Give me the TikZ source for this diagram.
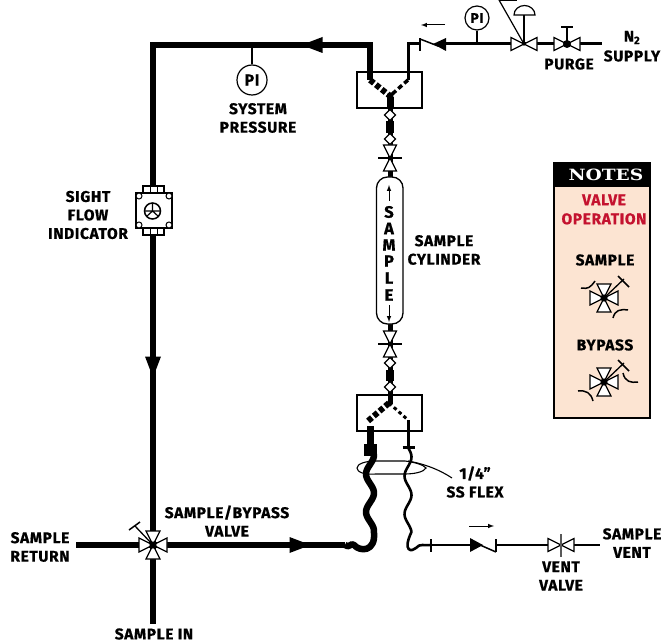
\documentclass[tikz,border=0pt]{standalone}
\usepackage{fontspec}
\setmainfont[FakeStretch=1.0,LetterSpace=4,BoldFeatures={FakeBold=0.7}]{Fira Sans}
\newfontfamily\notesfont[FakeStretch=1.2]{DejaVu Serif}
\usetikzlibrary{calc}
\definecolor{notepeach}{HTML}{FCE4D2}
\definecolor{notered}{HTML}{C4122F}
\tikzset{
  x=1pt,y=-1pt,
  lbl/.style={font=\fontsize{15.5}{18.5}\selectfont\bfseries,align=center,inner sep=0pt,text=black},
  rd/.style={font=\fontsize{15.5}{19}\selectfont\bfseries,align=center,inner sep=0pt,text=notered},
  thick line/.style={line width=6.5pt,line cap=butt,line join=miter},
  mid line/.style={line width=3pt,line cap=butt,line join=miter},
  thin line/.style={line width=1.3pt},
  tri/.style={fill=white,draw=black,line width=1.2pt,line join=miter},
  box/.style={draw=black,line width=1.2pt,fill=none},
  bowtie/.pic={
    \draw[tri] (-13,-6.5)--(-13,6.5)--(0,0)--cycle;
    \draw[tri] (13,-6.5)--(13,6.5)--(0,0)--cycle;
  },
  fourway/.pic={
    \foreach \a in {0,90,180,270}{
      \draw[tri,rotate=\a] (0,0)--(14,-7)--(14,7)--cycle;
    }
    \fill (0,0) circle (3.6);
  },
  flowhead/.pic={\fill (10.5,0)--(-10.5,-8)--(-10.5,8)--cycle;},
  diam/.pic={\draw[fill=white,draw=black,line width=1.2pt] (0,-5.5)--(5.5,0)--(0,5.5)--(-5.5,0)--cycle;},
}
\begin{document}
\begin{tikzpicture}
\useasboundingbox (0,0) rectangle (663,644);
\fill[white] (0,0) rectangle (663,644);

% --- coordinates
\coordinate (bv) at (153,545);
\coordinate (topL) at (153,45);
\coordinate (topR) at (370,45);
\coordinate (yTopL) at (370,80);
\coordinate (yTopR) at (408,80);
\coordinate (yTopC) at (390,96);
\coordinate (boxTopS) at (390,108);
\coordinate (ckTopW) at (408,44);
\coordinate (ckTopBar) at (420,44);
\coordinate (ckTopIn) at (445,44);
\coordinate (regC) at (524,44);
\coordinate (purgeC) at (567,44);
\coordinate (n2end) at (602,44);
\coordinate (vvC) at (561,545);
\coordinate (ventEnd) at (600,545);

% --- main loop
\draw[thick line] (yTopL) -- (topR) -- (topL) -- (bv);
\draw[thick line] (bv) -- (153,624);
\draw[thick line] (76,545) -- (bv) -- (345,545);
\pic[rotate=180] at (312,45) {flowhead};
\pic[rotate=-90] at (153,367) {flowhead};
\pic at (300,545) {flowhead};

% --- top supply line
\draw[mid line] (yTopR) -- (ckTopW) -- (ckTopBar);
\draw[mid line] (ckTopIn) -- (n2end);
\draw[line width=1.5pt] (420,38.5) -- (420,51);
\draw[line width=1.5pt] (420,39) -- (438,46);
\fill (433,44) -- (446,38) -- (446,51) -- cycle;
\draw[line width=1pt,-{latex}] (445,25) -- (421,25);

\node[circle,draw=black,line width=1.2pt,minimum size=24pt,inner sep=0pt,font=\fontsize{14}{14}\selectfont\bfseries] (pitop) at (477,18) {PI};
\coordinate (pitopT) at (477,44);
\draw[line width=1.3pt] (pitop) -- (pitopT);

\pic at (regC) {bowtie};
\draw[line width=1.2pt] (regC) -- (524,13);
\draw[line width=1.2pt,fill=white] (514,15) -- (535,15) arc[start angle=0,end angle=-180,x radius=10.5,y radius=9.5] -- cycle;
\draw[line width=1.2pt] (regC) -- (499,0);
\draw[line width=1.2pt] (499,0.5) -- (517,0.5);
\fill (regC) circle (1.8);

\pic at (purgeC) {bowtie};
\fill (purgeC) circle (4);
\draw[line width=1.3pt] (purgeC) -- (567,27);
\draw[line width=1.3pt] (561,27) -- (573,27);

% --- upper manifold
\draw[box] (357,72) rectangle (422,108);
\draw[line width=6pt,dash pattern=on 5pt off 2.5pt] (yTopL) -- (yTopC);
\draw[line width=3.5pt,dash pattern=on 5pt off 3pt] (yTopR) -- (yTopC);
\fill (yTopC) circle (3.5);

% --- vertical chain
\draw[line width=5pt] (yTopC) -- (390,178);
\draw[line width=5pt] (390,322) -- (390,404);
\draw[line width=7.5pt] (390,121) -- (390,133);
\draw[line width=7.5pt] (390,370) -- (390,381);
\draw[line width=7pt] (390,97) -- (390,108);
\pic at (390,115) {diam};
\pic at (390,139) {diam};
\pic[rotate=90] at (390,158) {bowtie};
\draw[line width=1.6pt] (378,158) -- (402,158);
\pic[rotate=90] at (390,344) {bowtie};
\draw[line width=1.6pt] (378,344) -- (402,344);
\pic at (390,363) {diam};
\pic at (390,387) {diam};

% --- cylinder
\draw[line width=1.3pt,fill=white,rounded corners=11pt] (376.5,177) rectangle (403,324);
\draw[line width=1pt,-{latex}] (389,201) -- (389,185);
\draw[line width=1pt,-{latex}] (389,305) -- (389,322);
\foreach \nm/\ch/\yy in {sa/S/212,sb/A/228.5,sc/M/245,sd/P/261,se/L/278,sf/E/295}{
  \node[lbl,font=\fontsize{16.5}{16.5}\selectfont\bfseries] (\nm) at (389,\yy) {\ch};
}

% --- lower manifold
\draw[box] (357,395) rectangle (422,431);
\coordinate (yBotC) at (389,403);
\coordinate (yBotL) at (368,421);
\coordinate (yBotR) at (408,420);
\draw[line width=6pt,dash pattern=on 5pt off 2.5pt] (yBotC) -- (yBotL);
\draw[line width=3pt,dash pattern=on 3.5pt off 3pt] (yBotC) -- (yBotR);

% --- flex hoses
\draw[line width=7pt] (370,426) -- (370,448);
\draw[line width=13pt] (370,444) -- (370,456);
\draw[line width=3pt] (408,420) -- (408,448);
\draw[line width=3pt] (402.5,447.5) -- (415,447.5);
\draw[line width=6.5pt,line join=round]
  plot[smooth,domain=454:532,samples=40,variable=\t] ({370+4*cos(360/38*(\t-493))},\t)
  .. controls (376,552) and (360,552) .. (354,545)
  .. controls (351,542) and (349,549) .. (345,545);
\draw[line width=2.6pt,line join=round]
  plot[smooth,domain=448:532,samples=40,variable=\t] ({408+3.5*cos(360/38*(\t-495))},\t)
  .. controls (402,552) and (412,552) .. (416,548)
  .. controls (420,543) and (424,546) .. (431,545);

% --- ring and leader
\draw[line width=1.1pt] (376,461) -- (405,461) .. controls (414,462) and (424,465) .. (426,468)
  .. controls (424,472) and (414,474) .. (405,474) -- (376,474)
  .. controls (364,475) and (357,472) .. (357,468) .. controls (357,464) and (365,461) .. (376,461) -- cycle;
\coordinate (lead) at (452,478);
\draw[line width=1.1pt] (408,461) .. controls (425,464) and (440,470) .. (lead);

% --- sample/bypass valve
\draw[line width=1.3pt] (bv) -- (135,526);
\draw[line width=1.5pt] (129,530) -- (140,522);
\pic at (bv) {fourway};

% --- vent line
\draw[line width=2.8pt] (431,545) -- (470,545);
\draw[line width=2.8pt] (431,539) -- (431,552);
\fill (470,538) -- (470,552) -- (483,545) -- cycle;
\draw[line width=1.5pt] (480,545) -- (496,552);
\draw[line width=1.5pt] (496,539) -- (496,552);
\draw[line width=2.5pt] (496,545) -- (ventEnd);
\draw[line width=1pt,-{latex}] (469,526) -- (494,526);
\pic at (vvC) {bowtie};
\draw[line width=1.6pt,black!65] (561,534) -- (561,557);

% --- sight flow indicator
\node[box,fill=white,minimum width=21pt,minimum height=7pt,inner sep=0pt] (sftop) at (153.5,189.5) {};
\node[box,fill=white,minimum width=21pt,minimum height=7pt,inner sep=0pt] (sfbot) at (153.5,231.5) {};
\draw[line width=1pt] (150,186)--(150,193) (157,186)--(157,193) (150,228)--(150,235) (157,228)--(157,235);
\node[box,fill=white,minimum width=36pt,minimum height=35pt,inner sep=0pt] (sf) at (154,210.5) {};
\foreach \dx/\dy in {-15/-14.5,15/-14.5,-15/14.5,15/14.5}{
  \draw[line width=1pt,fill=white] ($(sf)+(\dx,\dy)$) circle (3);
}
\draw[line width=1.5pt] (152.5,211) circle (8);
\draw[line width=1.2pt] (152.5,203) -- (152.5,211) (144.5,211) -- (160.5,211) (152.5,211) -- (146.5,216.5) (152.5,211) -- (158.5,216.5);

% --- system PI
\node[circle,draw=black,line width=1.2pt,minimum size=30pt,inner sep=0pt,font=\fontsize{16}{16}\selectfont\bfseries,fill=white] (pisys) at (252,80) {PI};
\coordinate (pisysT) at (252,45);
\draw[line width=1.3pt] (pisys) -- (pisysT);

% --- labels
\node[lbl] (lsys) at (258,118) {SYSTEM\\PRESSURE};
\node[lbl] (lsfi) at (88,215) {SIGHT\\FLOW\\INDICATOR};
\node[lbl] (lcyl) at (444,250) {SAMPLE\\CYLINDER};
\node[lbl] (lpurge) at (569,64) {PURGE};
\node[lbl] (ln) at (632,37.5) {N\textsubscript{2}};
\node[lbl] (lsup) at (632,56) {SUPPLY};
\node[lbl] (lflex) at (475,482) {1/4"\\SS FLEX};
\node[lbl] (lsbv) at (227,521) {SAMPLE/BYPASS\\VALVE};
\node[lbl] (lret) at (40,547) {SAMPLE\\RETURN};
\node[lbl] (lin) at (154,634) {SAMPLE IN};
\node[lbl] (lvv) at (561,576) {VENT\\VALVE};
\node[lbl] (lvent) at (632,543) {SAMPLE\\VENT};

% --- notes panel
\draw[black,line width=2pt,fill=notepeach] (554,163) rectangle (650,418);
\fill[black] (553,162) rectangle (651,187);
\node[inner sep=0pt,text=white,font=\fontsize{15.5}{15}\selectfont\notesfont\bfseries] (nt) at (606,174.5) {NOTES};
\node[rd] (nvo) at (604,209.5) {VALVE\\OPERATION};
\node[lbl] (nsam) at (605,260) {SAMPLE};
\node[lbl] (nbyp) at (605,345) {BYPASS};
\coordinate (ic1) at (604,298);
\coordinate (ic2) at (604,382);
\pic at (ic1) {fourway};
\draw[line width=1.3pt] (ic1) -- ++(20,-19);
\draw[line width=1.5pt] ($(ic1)+(14,-22)$) -- ++(11,11);
\draw[line width=1.5pt] ($(ic1)+(-9,-17)$) .. controls ($(ic1)+(-14,-10)$) and ($(ic1)+(-16,-9)$) .. ($(ic1)+(-23,-10)$);
\draw[line width=1.5pt] ($(ic1)+(9,20)$) .. controls ($(ic1)+(11,12)$) and ($(ic1)+(16,11)$) .. ($(ic1)+(24,12)$);
\pic at (ic2) {fourway};
\draw[line width=1.3pt] (ic2) -- ++(20,-19);
\draw[line width=1.5pt] ($(ic2)+(14,-22)$) -- ++(11,11);
\draw[line width=1.5pt] ($(ic2)+(19,-9)$) .. controls ($(ic2)+(21,0)$) and ($(ic2)+(27,1)$) .. ($(ic2)+(34,0)$);
\draw[line width=1.5pt] ($(ic2)+(-26,9)$) .. controls ($(ic2)+(-18,8)$) and ($(ic2)+(-13,11)$) .. ($(ic2)+(-11,19)$);
\end{tikzpicture}
\end{document}
